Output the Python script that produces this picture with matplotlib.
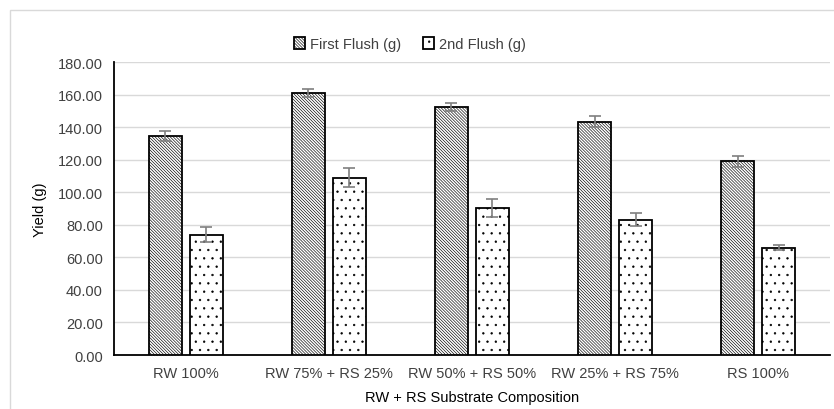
import numpy as np
import matplotlib.pyplot as plt
from matplotlib.patches import Rectangle

# Data
categories = ['RW 100%', 'RW 75% + RS 25%', 'RW 50% + RS 50%', 'RW 25% + RS 75%', 'RS 100%']
first_flush = [134.5, 160.8, 152.5, 143.5, 119.0]
first_err = [3.0, 2.5, 2.5, 3.5, 3.5]
second_flush = [74.0, 109.0, 90.5, 83.0, 66.0]
second_err = [4.5, 6.0, 5.5, 4.0, 1.5]

plt.rcParams['font.family'] = ['Liberation Sans', 'DejaVu Sans']
plt.rcParams['hatch.linewidth'] = 0.45

fig = plt.figure(figsize=(8.34, 4.10), dpi=100)
ax = fig.add_axes([0.1367, 0.1317, 0.8583, 0.7143])

# light frame around the chart area
fig.patches.append(Rectangle((10 / 834, -0.1), 1.2, 1 - 11 / 410 + 0.1,
                             transform=fig.transFigure, fill=False,
                             edgecolor='#d9d9d9', lw=1.0))

x = np.arange(len(categories))
w = 0.23
off = 0.143
err_kw = dict(ecolor='#7f7f7f', elinewidth=1.2, capsize=4, capthick=1.2)

ax.bar(x - off, first_flush, w, yerr=first_err, color='white', edgecolor='black',
       hatch='\\' * 11, linewidth=1.3, label='First Flush (g)', error_kw=err_kw, zorder=3)
ax.bar(x + off, second_flush, w, yerr=second_err, color='white', edgecolor='black',
       hatch='..', linewidth=1.3, label='2nd Flush (g)', error_kw=err_kw, zorder=3)

ax.set_xlim(-0.5, 4.5)
ax.set_ylim(0, 180)
ax.set_yticks(np.arange(0, 181, 20))
ax.set_yticklabels([f'{v:.2f}' for v in np.arange(0, 181, 20)])
ax.set_xticks(x)
ax.set_xticklabels(categories)
ax.tick_params(axis='both', length=0, labelsize=10.5, labelcolor='#404040')
ax.tick_params(axis='y', pad=8)
ax.tick_params(axis='x', pad=8)

ax.grid(axis='y', color='#d9d9d9', linewidth=1.0, zorder=0)
for s in ['top', 'right']:
    ax.spines[s].set_visible(False)
ax.spines['left'].set_color('black')
ax.spines['left'].set_linewidth(1.3)
ax.spines['bottom'].set_color('black')
ax.spines['bottom'].set_linewidth(1.3)

ax.set_ylabel('Yield (g)', fontsize=10.5, color='black', labelpad=8)
ax.set_xlabel('RW + RS Substrate Composition', fontsize=10.5, color='black', labelpad=7)

leg = fig.legend(loc='center', bbox_to_anchor=(0.491, 0.89), ncol=2, frameon=False,
                 fontsize=10.5, handlelength=0.8, handleheight=0.8, handletextpad=0.3,
                 columnspacing=1.5)
for t in leg.get_texts():
    t.set_color('#404040')

fig.savefig('out.png', dpi=100)
